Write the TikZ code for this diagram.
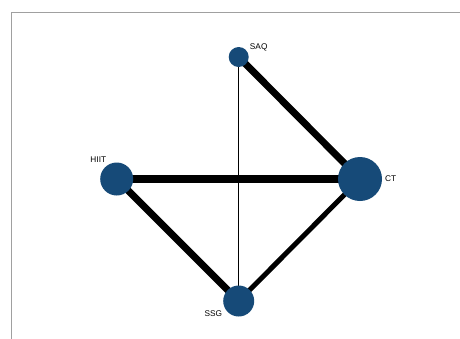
\documentclass[tikz,border=0pt]{standalone}
\usepackage{fontspec}
\setmainfont{Liberation Sans}
\usetikzlibrary{backgrounds}
\definecolor{nodeblue}{HTML}{164A78}
\definecolor{framegray}{HTML}{A0A0A0}
\begin{document}
\begin{tikzpicture}[x=1bp,y=-1bp,
  treat/.style={circle,fill=nodeblue,inner sep=0pt},
  lbl/.style={font=\fontsize{8.3}{9}\selectfont,inner sep=0pt},
  link/.style={draw=black}]
\useasboundingbox (0,0) rectangle (460,338);
\clip (0,0) rectangle (460,338);
% treatments
\node[treat,minimum size=20bp] (saq) at (238.7,57) {};
\node[treat,minimum size=33bp] (hiit) at (116.7,179) {};
\node[treat,minimum size=44bp] (ct) at (360,179) {};
\node[treat,minimum size=31bp] (ssg) at (238.7,301) {};
% comparisons, drawn behind the treatment circles
\begin{scope}[on background layer]
\fill[white] (0,0) rectangle (460,338);
\draw[framegray,line width=1.2bp] (11.5,340) -- (11.5,12.5) -- (462,12.5);
\draw[link,line width=1bp] (saq.center) -- (ssg.center);
\draw[link,line width=7bp] (saq.center) -- (ct.center);
\draw[link,line width=7.5bp] (hiit.center) -- (ct.center);
\draw[link,line width=7bp] (hiit.center) -- (ssg.center);
\draw[link,line width=5bp] (ssg.center) -- (ct.center);
\end{scope}
% labels
\node[lbl] (lsaq) at (258.7,47.5) {SAQ};
\node[lbl] (lhiit) at (98.3,159.5) {HIIT};
\node[lbl] (lct) at (390.7,179) {CT};
\node[lbl] (lssg) at (213.3,313.3) {SSG};
\end{tikzpicture}
\end{document}
